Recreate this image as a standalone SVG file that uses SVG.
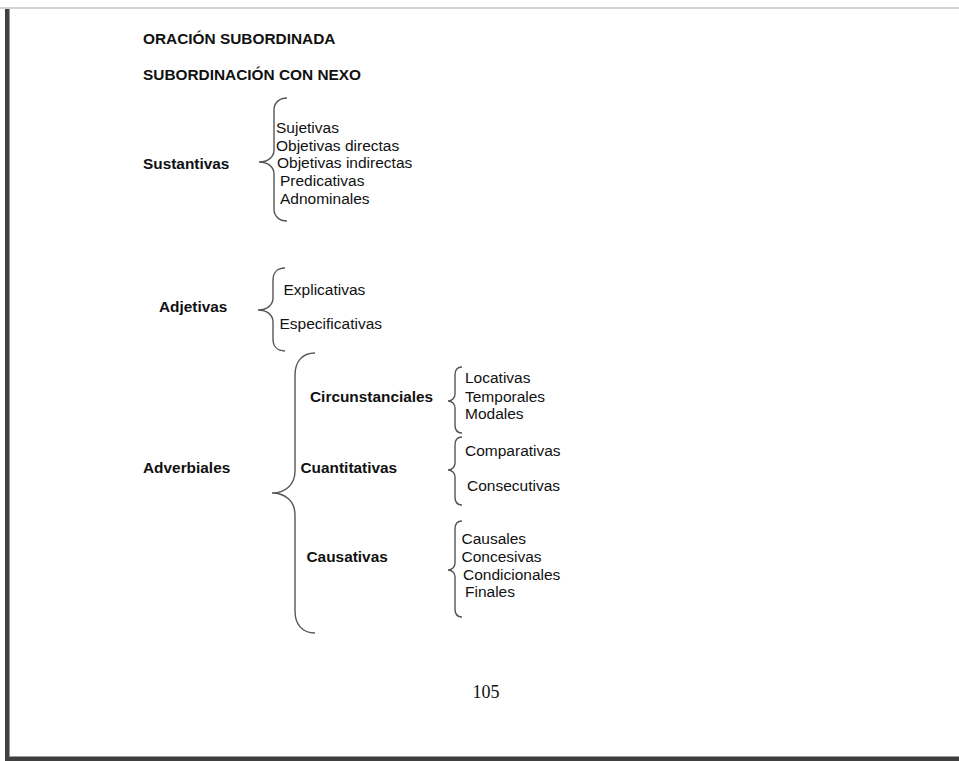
<svg xmlns="http://www.w3.org/2000/svg" width="959" height="761" viewBox="0 0 959 761">
<style>
.b{font-family:"Liberation Sans",Arial,sans-serif;font-weight:bold;font-size:15.4px;fill:#111}
.r{font-family:"Liberation Sans",Arial,sans-serif;font-size:15.5px;fill:#111}
.brace{fill:none;stroke:#555;stroke-width:1.4}
</style>
<rect x="0" y="0" width="959" height="761" fill="#fff"/>
<rect x="0" y="7" width="959" height="2" fill="#d2d2d2"/>
<rect x="5" y="9" width="4" height="752" fill="#3f3f3f"/>
<rect x="9" y="9" width="1" height="748" fill="#9a9a9a"/>
<rect x="9" y="756" width="950" height="1" fill="#9a9a9a"/>
<rect x="5" y="757" width="954" height="4" fill="#3f3f3f"/>
<g id="title"><text class="b" x="143" y="44">ORACIÓN SUBORDINADA</text></g>
<g id="subtitle"><text class="b" x="143" y="80">SUBORDINACIÓN CON NEXO</text></g>
<g id="sustantivas"><text class="b" x="143" y="168.5">Sustantivas</text></g>
<g id="sustantivas-list">
<text class="r" x="276" y="132.5">Sujetivas</text>
<text class="r" x="276" y="150.5">Objetivas directas</text>
<text class="r" x="277" y="167.5">Objetivas indirectas</text>
<text class="r" x="280" y="186">Predicativas</text>
<text class="r" x="280" y="204">Adnominales</text>
</g>
<g id="adjetivas"><text class="b" x="159" y="312">Adjetivas</text></g>
<g id="adjetivas-list">
<text class="r" x="283.5" y="294.5">Explicativas</text>
<text class="r" x="279.5" y="329">Especificativas</text>
</g>
<g id="adverbiales"><text class="b" x="143" y="472.5">Adverbiales</text></g>
<g id="circunstanciales"><text class="b" x="310" y="402">Circunstanciales</text></g>
<g id="circunstanciales-list">
<text class="r" x="465" y="383">Locativas</text>
<text class="r" x="465" y="401.5">Temporales</text>
<text class="r" x="465" y="419">Modales</text>
</g>
<g id="cuantitativas"><text class="b" x="300.5" y="473">Cuantitativas</text></g>
<g id="cuantitativas-list">
<text class="r" x="465" y="455.5">Comparativas</text>
<text class="r" x="467" y="490.5">Consecutivas</text>
</g>
<g id="causativas"><text class="b" x="306.5" y="562">Causativas</text></g>
<g id="causativas-list">
<text class="r" x="461.5" y="544">Causales</text>
<text class="r" x="461.5" y="562">Concesivas</text>
<text class="r" x="463" y="580">Condicionales</text>
<text class="r" x="465" y="597">Finales</text>
</g>
<g id="page-number"><text x="486" y="698" text-anchor="middle" font-family="Liberation Serif,Times New Roman,serif" font-size="18" fill="#111">105</text></g>
<g id="connectors">
<path class="brace" d="M287,98 C279,98 274,103 274,110 L274,150 C274,157 268,162 259,162 C268,162 274,167 274,174 L274,209 C274,216 279,221 287,221"/>
<path class="brace" d="M285,268 C277,268 273,273 273,280 L273,298 C273,305 267,310 258,310 C267,310 273,315 273,322 L273,339 C273,346 277,351 285,351"/>
<path class="brace" d="M315,353 C302,353 295,362 295,375 L295,471 C295,485 285,493 272,493 C285,493 295,501 295,515 L295,611 C295,624 302,633 315,633"/>
<path class="brace" d="M462,367 C457,367 455,370 455,375 L455,394 C455,398 452,401 448,401 C452,401 455,404 455,408 L455,425 C455,430 457,433 462,433"/>
<path class="brace" d="M462,437 C457,437 455,440 455,445 L455,463 C455,467 452,470 448,470 C452,470 455,473 455,477 L455,497 C455,502 457,505 462,505"/>
<path class="brace" d="M462,521 C457,521 455,524 455,529 L455,563 C455,567 452,570 448,570 C452,570 455,573 455,577 L455,609 C455,614 457,617 462,617"/>
</g>
</svg>
